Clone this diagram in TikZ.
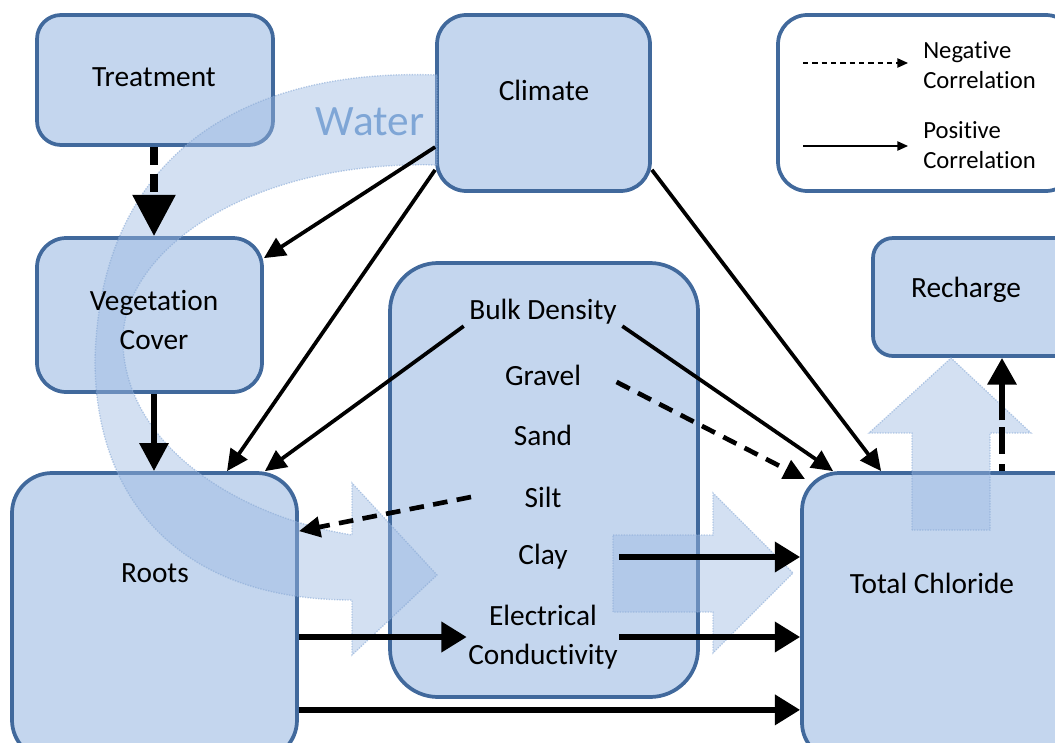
\documentclass[tikz,border=0pt]{standalone}
\usepackage{fontspec}
\setmainfont{Carlito}[Ligatures=NoCommon]
\usetikzlibrary{calc,positioning,arrows.meta}
\definecolor{boxfill}{HTML}{C4D6EE}
\definecolor{boxline}{HTML}{41699C}
\definecolor{flowfill}{HTML}{9DBBE3}
\definecolor{flowline}{HTML}{8AAAD6}
\definecolor{watertext}{HTML}{7FA6D6}

\begin{document}
\begin{tikzpicture}[x=0.75pt,y=-0.75pt,
    blk/.style={draw=boxline,line width=2.8pt,fill=boxfill,rounded corners=#1},
    blk/.default=20pt,
    txt/.style={font=\fontsize{22}{29}\selectfont,inner sep=1pt,align=center},
    flow/.style={fill=flowfill,fill opacity=0.45,draw=flowline,draw opacity=0.6,line width=1pt,densely dotted},
    poscor/.style={-{Triangle[length=16pt,width=15pt]},line width=2.8pt},
    negcor/.style={-{Triangle[length=16pt,width=15pt]},line width=3.5pt,dash pattern=on 11pt off 7pt},
    bigcor/.style={-{Triangle[length=19pt,width=22pt]},line width=4.5pt}]
  \clip (0,0) rectangle (1055,742);

  % boxes
  \node[blk=18pt,minimum width=177pt,minimum height=97.5pt] (treat) at (155,80) {};
  \node[blk=22pt,minimum width=159.75pt,minimum height=132pt] (clim) at (543.5,103) {};
  \node[blk=22pt,minimum width=168.75pt,minimum height=115.5pt] (veg) at (149.5,315) {};
  \node[blk=30pt,minimum width=213.75pt,minimum height=215.25pt] (roots) at (154.5,616.5) {};
  \node[blk=36pt,minimum width=231pt,minimum height=325.5pt] (mid) at (544,480) {};
  \node[blk=22pt,fill=white,minimum width=222.75pt,minimum height=132pt] (leg) at (926.5,103) {};
  \node[blk=15pt,minimum width=155.25pt,minimum height=88.5pt] (rech) at (976.5,297) {};
  \node[blk=28pt,minimum width=216pt,minimum height=215.25pt] (tc) at (946,616.5) {};

  % water and flow arrows
  \path[flow] (437,75) .. controls (250,68) and (100,150) .. (95,360)
    .. controls (95,500) and (180,600) .. (352,600) -- (352,655) -- (437,575) -- (352,483) -- (352,535)
    .. controls (230,515) and (123,440) .. (123,340)
    .. controls (123,250) and (250,160) .. (437,165) -- cycle;
  \path[flow] (613,535) -- (713,535) -- (713,493) -- (793,573) -- (713,653) -- (713,612) -- (613,612) -- cycle;
  \path[flow] (912,530) -- (912,433) -- (869,433) -- (951,358) -- (1031,433) -- (990,433) -- (990,530) -- cycle;
  \node[font=\fontsize{32.5}{36}\selectfont,text=watertext,inner sep=0pt] (wtr) at (370,122) {Water};

  % texts
  \node[txt] (treatT) at (154,77) {Treatment};
  \node[txt] (climT) at (544,90) {Climate};
  \node[txt] (vegT) at (154,320) {Vegetation\\Cover};
  \node[txt] (rootsT) at (155,573) {Roots};
  \node[txt] (rechT) at (966,290) {Recharge};
  \node[txt] (tcT) at (932,583) {Total Chloride};
  \node[txt] (bd) at (543,312) {Bulk Density};
  \node[txt] (gr) at (543,375) {Gravel};
  \node[txt] (sa) at (543,435) {Sand};
  \node[txt] (si) at (543,497) {Silt};
  \node[txt] (cl) at (543,557) {Clay};
  \node[txt] (ec) at (543,637) {Electrical\\Conductivity};
  \node[font=\fontsize{18.5}{23}\selectfont,align=left,anchor=west,inner sep=0pt] (negT) at (923,65) {Negative\\Correlation};
  \node[font=\fontsize{18.5}{23}\selectfont,align=left,anchor=west,inner sep=0pt] (posT) at (923,145) {Positive\\Correlation};

  % legend
  \draw[-{Triangle[length=8pt,width=7pt]},line width=1.1pt,dash pattern=on 4pt off 3pt] ($(negT.west)+(-120,-2)$) -- ($(negT.west)+(-15,-2)$);
  \draw[-{Triangle[length=8pt,width=7pt]},line width=1.1pt] ($(posT.west)+(-120,1)$) -- ($(posT.west)+(-15,1)$);

  % connectors
  \draw[-{Triangle[length=31pt,width=31pt]},line width=6pt,dash pattern=on 13.5pt off 6.75pt] (treat.south -| treatT) -- (treatT |- veg.north);
  \draw[-{Triangle[length=21pt,width=21pt]},line width=4.5pt] (treatT |- veg.south) -- (treatT |- roots.north);
  \draw[poscor] ($(clim.west)+(0,44)$) -- ($(veg.north east)+(0,22)$);
  \draw[poscor] ($(clim.south west)+(0,-23)$) -- ($(roots.north)+(72.5,0)$);
  \draw[poscor] ($(clim.south east)+(0,-23)$) -- ($(tc.north west)+(81,0)$);
  \draw[poscor] ($(bd.south west)+(-4,0)$) -- ($(roots.north east)+(-34,0)$);
  \draw[poscor] ($(bd.south east)+(4,0)$) -- ($(tc.north west)+(33,0)$);
  \draw[negcor] ($(gr.east)+(34,7)$) -- ($(tc.north west)+(5,8)$);
  \draw[negcor] ($(si.west)+(-52,0)$) -- ($(roots.north east)+(0,60)$);
  \draw[bigcor] (ec.east |- cl) -- (tc.west |- cl);
  \draw[bigcor] (roots.east |- ec) -- (ec.west);
  \draw[bigcor] (ec.east) -- (tc.west |- ec);
  \coordinate (rb) at ($(roots.south east)+(0,-52)$);
  \draw[bigcor] (rb) -- (tc.west |- rb);
  \coordinate (tr) at ($(tc.north)+(56,0)$);
  \draw[-{Triangle[length=20pt,width=21pt]},line width=4.5pt,dash pattern=on 5pt off 8pt on 20pt off 5pt on 60pt] (tr) -- (tr |- rech.south);
\end{tikzpicture}
\end{document}
